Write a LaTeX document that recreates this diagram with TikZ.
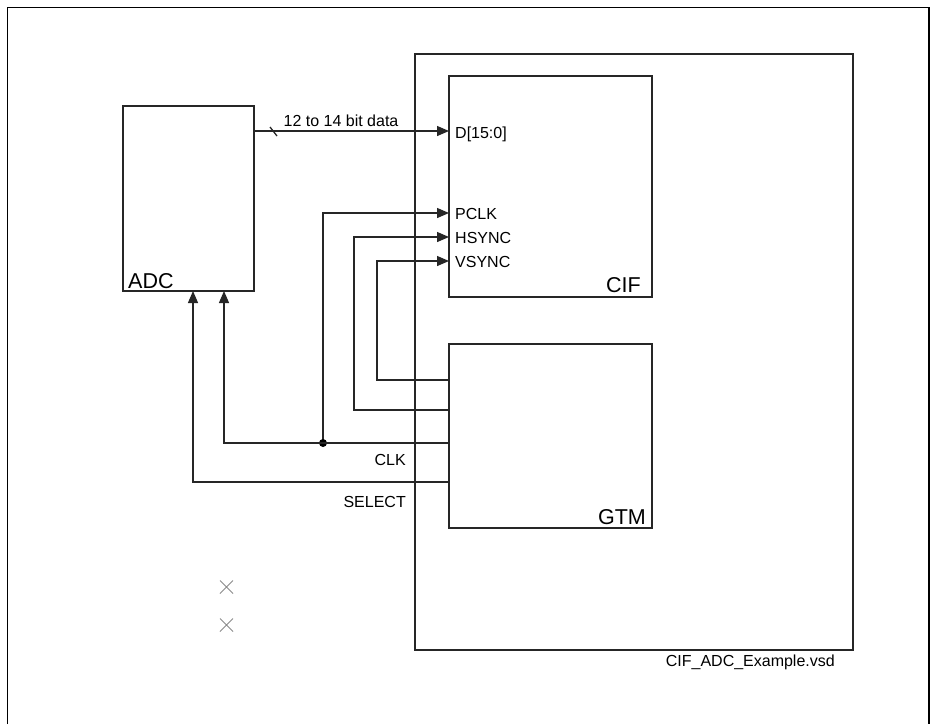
\documentclass[tikz,border=0pt]{standalone}
\usepackage{fontspec}
\setmainfont{Liberation Sans}
\usetikzlibrary{arrows.meta}
\begin{document}
\begin{tikzpicture}[x=1pt,y=-1pt,
  ln/.style={line width=1.3pt,draw=black!85},
  box/.style={ln,inner sep=0pt,outer sep=0pt,anchor=north west},
  arr/.style={ln,-{Triangle[length=12pt,width=10pt]}},
  sm/.style={font=\fontsize{16}{19}\selectfont,inner sep=0pt},
  big/.style={font=\fontsize{21.5}{25}\selectfont,inner sep=0pt},
  xmark/.style={line width=1pt,draw=black!45}]
\useasboundingbox (0,0) rectangle (930,724);
\fill[white] (0,0) rectangle (930,724);
\draw[line width=1.4pt] (7.5,724) -- (7.5,7.5) -- (929,7.5) -- (929,724);
% boxes
\node[box,minimum width=438pt,minimum height=596pt] (sys) at (415,54) {};
\node[box,minimum width=203pt,minimum height=221pt] (cif) at (449,76) {};
\node[box,minimum width=203pt,minimum height=184pt] (gtm) at (449,344) {};
\node[box,minimum width=131pt,minimum height=185pt] (adc) at (123,106) {};
% box labels
\node[big,anchor=west] (adcl) at (128,281) {ADC};
\node[big,anchor=east] (cifl) at (641,285) {CIF};
\node[big,anchor=east] (gtml) at (646,517) {GTM};
% pin labels
\node[sm,anchor=west] (dl) at (455,134) {D[15:0]};
\node[sm,anchor=west] (pl) at (455,214) {PCLK};
\node[sm,anchor=west] (hl) at (455,238) {HSYNC};
\node[sm,anchor=west] (vl) at (455,262) {VSYNC};
% data bus
\draw[arr] (adc.east |- 0,131) -- (cif.west |- 0,131);
\draw[ln] (270,127) -- (277,136);
\node[sm] (datal) at (341,121) {12 to 14 bit data};
% sync lines
\draw[arr] (gtm.west |- 0,380) -| (377,261) -- (cif.west |- 0,261);
\draw[arr] (gtm.west |- 0,410) -| (354,237) -- (cif.west |- 0,237);
\coordinate (dot) at (323,443);
\draw[arr] (dot) -- (323,213) -- (cif.west |- 0,213);
\fill (dot) circle (4pt);
% CLK and SELECT
\draw[arr] (gtm.west |- 0,443) -| (adc.south -| 224,0);
\draw[arr] (gtm.west |- 0,482) -| (adc.south -| 193,0);
\node[sm,anchor=east] (clkl) at (406,460) {CLK};
\node[sm,anchor=east] (sell) at (406,502) {SELECT};
% crosses
\draw[xmark] (220,580.5) -- (233,593.5) (220,593.5) -- (233,580.5);
\draw[xmark] (220,618.5) -- (233,631.5) (220,631.5) -- (233,618.5);
% file name
\node[sm,anchor=east] (fname) at (835,662) {CIF\_ADC\_Example.vsd};
\end{tikzpicture}
\end{document}
